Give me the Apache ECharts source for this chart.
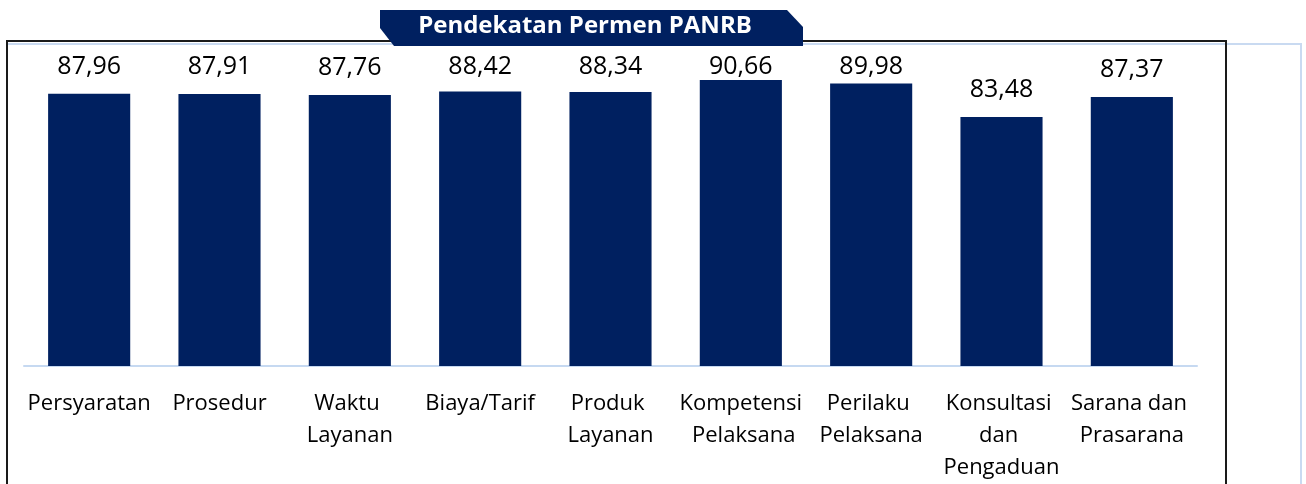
<!DOCTYPE html>
<html>
<head>
<meta charset="utf-8">
<script src="https://cdn.jsdelivr.net/npm/echarts@6/dist/echarts.min.js"></script>
<style>
html,body{margin:0;padding:0;background:#fff;}
#chart{width:1306px;height:484px;}
</style>
</head>
<body>
<div id="chart"></div>
<script>
var categories = ['Persyaratan', 'Prosedur', 'Waktu Layanan', 'Biaya/Tarif', 'Produk Layanan', 'Kompetensi Pelaksana', 'Perilaku Pelaksana', 'Konsultasi dan Pengaduan', 'Sarana dan Prasarana'];
var values = [87.96, 87.91, 87.76, 88.42, 88.34, 90.66, 89.98, 83.48, 87.37];
var title = 'Pendekatan Permen PANRB';

var chart = echarts.init(document.getElementById('chart'));
var navy = '#002060';
var font = '"Open Sans", sans-serif';
var LABEL_MIN_BOTTOM = 79; // labels are kept inside the chart area, like the original

chart.setOption({
  animation: false,
  backgroundColor: '#ffffff',
  grid: {left: 24, right: 109, top: 32, bottom: 117, containLabel: false},
  xAxis: {
    type: 'category',
    data: categories,
    axisLine: {show: true, lineStyle: {color: '#c6d9f1', width: 2}},
    axisTick: {show: false},
    axisLabel: {
      interval: 0,
      color: '#000000',
      fontFamily: font,
      fontSize: 22,
      lineHeight: 32,
      margin: 22,
      width: 128,
      overflow: 'break'
    }
  },
  yAxis: {
    type: 'value',
    min: 35,
    max: 100,
    show: false,
    splitLine: {show: false}
  },
  series: [{
    type: 'bar',
    data: values,
    barCategoryGap: '37%',
    itemStyle: {color: navy},
    label: {
      show: true,
      position: 'top',
      distance: 15,
      color: '#000000',
      fontFamily: font,
      fontSize: 25,
      formatter: function (p) { return p.value.toFixed(2).replace('.', ','); }
    },
    labelLayout: function (p) {
      var r = p.labelRect;
      var top = Math.max(r.y, LABEL_MIN_BOTTOM - r.height);
      return {x: r.x + r.width / 2, y: top, align: 'center', verticalAlign: 'top'};
    }
  }],
  graphic: [
    {type: 'rect', z: 0, silent: true, shape: {x: 7, y: 44, width: 1294, height: 460},
     style: {fill: 'none', stroke: '#c9daf1', lineWidth: 2}},
    {type: 'rect', z: 1, silent: true, shape: {x: 7, y: 41, width: 1219, height: 460},
     style: {fill: 'none', stroke: '#1a1a1a', lineWidth: 2}},
    {type: 'polygon', z: 10, silent: true,
     shape: {points: [[380, 10], [787, 10], [803, 27], [803, 46], [394, 46], [380, 28]]},
     style: {fill: navy}},
    {type: 'text', z: 11, silent: true, x: 585, y: 26,
     style: {text: title, align: 'center', verticalAlign: 'middle',
             fill: '#ffffff', fontFamily: font, fontWeight: 'bold', fontSize: 24}}
  ]
});
</script>
</body>
</html>
